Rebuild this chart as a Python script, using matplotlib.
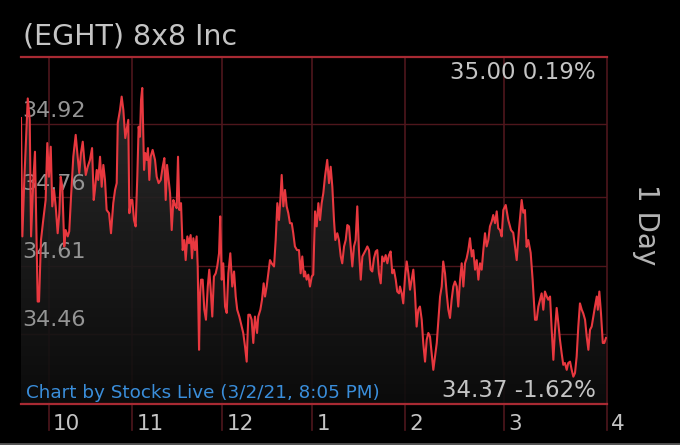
"""
Intraday price chart for EGHT (8x8 Inc), dark "Stocks Live" style.
Output: out.png
"""

import numpy as np
import matplotlib.pyplot as plt
from matplotlib.colors import LinearSegmentedColormap
from matplotlib.lines import Line2D

# --- data ---
# position along the session axis (minutes from the open, as drawn)
minutes = [
    0.0, 0.9, 2.2, 4.5, 5.8, 6.7, 8.2, 9.3, 10.4, 11.1, 12.0, 13.3, 14.8, 16.4, 17.5, 18.6,
    19.8, 20.8, 22.0, 23.1, 24.4, 25.5, 26.4, 27.5, 28.8, 29.7, 31.1, 32.1, 33.3, 34.8, 36.4,
    37.7, 38.8, 39.9, 41.1, 42.1, 43.1, 44.4, 45.9, 47.3, 48.4, 49.2, 50.4, 51.4, 52.6, 53.7,
    54.8, 55.9, 57.0, 58.6, 59.9, 61.4,
    62.6, 63.7, 64.4, 65.9, 67.0, 68.1, 69.4, 70.3, 71.4, 72.1, 73.2, 74.1, 75.2, 76.3, 77.4,
    78.3, 79.2, 79.9, 80.7, 81.9, 82.7, 83.7, 84.5, 85.4, 86.3, 87.6, 89.2, 90.3, 91.6, 93.0,
    94.3, 95.4, 96.3, 97.2, 98.3, 99.2, 100.3, 101.4, 102.5, 103.6, 104.5, 105.4, 106.5, 107.6,
    108.7, 109.6, 110.7, 111.8, 112.9, 113.8, 114.7, 115.8, 116.9, 117.6, 118.5, 119.1, 119.8,
    120.9, 122.0, 123.1, 124.3, 125.3,
    126.4, 127.3, 128.4, 129.6, 130.6, 131.8, 132.6, 133.6, 134.6, 135.8, 136.9, 138.0, 139.3,
    140.6, 141.8, 142.9, 143.9, 145.3, 146.9, 147.9, 149.1, 150.2, 151.3, 152.4, 153.5, 154.6,
    155.7, 157.1, 157.9, 159.3, 160.4, 161.5, 162.4, 163.5, 164.6, 165.7, 166.8, 168.4, 169.5,
    170.6, 171.7, 172.6, 173.5, 174.6, 175.7, 176.8, 177.9, 179.0, 180.2, 181.2, 182.3, 183.7,
    185.0, 186.1, 187.2, 188.3,
    189.0, 190.1, 191.2, 192.3, 193.5, 194.5, 195.7, 196.8, 197.9, 199.0, 200.1, 201.2, 202.3,
    203.8, 205.0, 206.1, 207.2, 208.3, 209.2, 210.5, 211.6, 212.8, 213.8, 215.0, 216.1, 217.2,
    218.3, 219.4, 220.5, 221.6, 222.7, 223.8, 224.9, 226.1, 227.2, 228.3, 229.4, 230.5, 231.6,
    232.7, 233.8, 234.9, 236.1, 237.1, 238.2, 239.4, 240.4, 241.6, 242.7, 243.8, 244.9, 246.0,
    247.1, 248.2, 249.4, 250.4, 251.6,
    252.2, 253.4, 254.4, 255.6, 256.7, 257.8, 258.9, 260.0, 261.1, 262.2, 263.3, 264.4, 265.5,
    266.7, 267.7, 268.9, 270.0, 271.1, 272.2, 273.3, 274.4, 275.5, 276.7, 277.8, 278.9, 280.0,
    281.0, 282.2, 283.3, 284.4, 285.5, 286.6, 287.7, 288.8, 290.0, 291.0, 292.2, 293.3, 294.4,
    295.5, 296.6, 297.7, 298.8, 300.0, 301.0, 302.2, 303.3, 304.4, 305.5, 306.6, 307.7, 308.8,
    309.9, 311.0, 312.1, 313.3, 314.3, 315.5, 316.6, 317.6, 318.8, 319.9, 321.0,
    322.6, 324.3, 326.1, 327.6, 329.9, 331.4, 333.2, 334.3, 335.4, 336.5, 337.6, 339.2, 340.5,
    342.1, 343.2, 344.3, 345.4, 346.5, 347.6, 348.7, 349.9, 350.9, 352.1, 353.2, 354.3, 355.4,
    356.5, 357.6, 358.7, 359.8, 360.9, 362.0, 363.2, 364.2, 365.4, 366.5, 367.6, 368.7, 369.8,
    370.9, 372.0, 373.2, 374.2, 375.4, 376.5, 377.6, 378.7, 379.8, 380.9, 382.0, 383.2, 383.9,
    384.9, 386.0, 387.2, 388.2, 389.3,
]
prices = [
    34.934, 34.674, 34.798, 34.977, 34.930, 34.674, 34.798, 34.860, 34.666, 34.531, 34.531,
    34.666, 34.710, 34.754, 34.879, 34.805, 34.871, 34.740, 34.776, 34.740, 34.681, 34.725,
    34.805, 34.783, 34.652, 34.688, 34.674, 34.685, 34.761, 34.849, 34.897, 34.849, 34.813,
    34.857, 34.882, 34.842, 34.809, 34.827, 34.842, 34.868, 34.754, 34.776, 34.820, 34.798,
    34.849, 34.783, 34.831, 34.798, 34.732, 34.725, 34.681, 34.747,
    34.776, 34.791, 34.923, 34.952, 34.981, 34.952, 34.890, 34.908, 34.930, 34.725, 34.754,
    34.754, 34.710, 34.696, 34.805, 34.915, 34.893, 34.974, 35.000, 34.820, 34.857, 34.842,
    34.868, 34.798, 34.849, 34.864, 34.842, 34.805, 34.791, 34.798, 34.827, 34.846, 34.754,
    34.831, 34.798, 34.769, 34.688, 34.754, 34.743, 34.736, 34.849, 34.732, 34.747, 34.644,
    34.666, 34.622, 34.674, 34.659, 34.677, 34.626, 34.670, 34.644, 34.674, 34.608, 34.425,
    34.542, 34.579, 34.579, 34.513, 34.491, 34.564, 34.601,
    34.549, 34.498, 34.586, 34.593, 34.608, 34.637, 34.718, 34.579, 34.615, 34.520, 34.506,
    34.593, 34.637, 34.564, 34.597, 34.542, 34.513, 34.498, 34.476, 34.462, 34.432, 34.399,
    34.502, 34.502, 34.491, 34.440, 34.498, 34.462, 34.498, 34.513, 34.535, 34.571, 34.542,
    34.564, 34.593, 34.622, 34.615, 34.608, 34.666, 34.747, 34.710, 34.754, 34.809, 34.740,
    34.776, 34.740, 34.725, 34.703, 34.703, 34.681, 34.652, 34.644, 34.644, 34.593, 34.630,
    34.586,
    34.597, 34.579, 34.590, 34.564, 34.586, 34.590, 34.729, 34.696, 34.747, 34.710, 34.747,
    34.769, 34.805, 34.842, 34.791, 34.827, 34.783, 34.710, 34.666, 34.681, 34.666, 34.630,
    34.615, 34.652, 34.666, 34.699, 34.696, 34.652, 34.608, 34.652, 34.666, 34.740, 34.644,
    34.579, 34.630, 34.637, 34.644, 34.652, 34.644, 34.601, 34.597, 34.626, 34.641, 34.644,
    34.593, 34.571, 34.630, 34.619, 34.633, 34.615, 34.633, 34.641, 34.593, 34.601, 34.579,
    34.553, 34.549,
    34.564, 34.549, 34.527, 34.586, 34.619, 34.593, 34.557, 34.579, 34.601, 34.549, 34.476,
    34.513, 34.520, 34.491, 34.440, 34.399, 34.447, 34.462, 34.454, 34.418, 34.381, 34.410,
    34.440, 34.491, 34.542, 34.564, 34.619, 34.593, 34.549, 34.513, 34.495, 34.535, 34.564,
    34.575, 34.564, 34.520, 34.579, 34.615, 34.564, 34.615, 34.626, 34.644, 34.670, 34.630,
    34.644, 34.601, 34.622, 34.579, 34.615, 34.601, 34.644, 34.681, 34.652, 34.666, 34.696,
    34.707, 34.721, 34.703, 34.729, 34.692, 34.688, 34.674, 34.732,
    34.743, 34.710, 34.688, 34.682, 34.622, 34.688, 34.754, 34.726, 34.732, 34.651, 34.666,
    34.638, 34.579,
    34.491, 34.491, 34.520, 34.535, 34.549, 34.513, 34.553, 34.542, 34.535, 34.542, 34.469,
    34.403, 34.469, 34.517, 34.484, 34.447, 34.418, 34.392, 34.396, 34.381, 34.396, 34.399,
    34.381, 34.366, 34.374, 34.410, 34.476, 34.527, 34.513, 34.505, 34.491, 34.454, 34.425,
    34.469, 34.476, 34.498, 34.520, 34.542, 34.513, 34.553, 34.505, 34.440, 34.440, 34.451,
]

hour_ticks = [18.6, 73.9, 133.8, 193.7, 255.6, 321.5, 390.0]
hour_labels = ['10', '11', '12', '1', '2', '3', '4']
price_levels = [34.92, 34.76, 34.61, 34.46]
price_labels = ['34.92', '34.76', '34.61', '34.46']

title = '(EGHT) 8x8 Inc'
high_text = '35.00 0.19%'
low_text = '34.37 -1.62%'
credit = 'Chart by Stocks Live (3/2/21, 8:05 PM)'
period = '1 Day'

# --- styling ---
bg = '#000000'
line_red = '#e8383f'
edge_red = '#a82a33'
grid_red = '#4e161c'
text_grey = '#c4c4c4'
label_grey = '#959595'

plt.rcParams['font.family'] = ['DejaVu Sans']

fig = plt.figure(figsize=(6.8, 4.45), dpi=100, facecolor=bg)
ax = fig.add_axes([21 / 680, 41 / 445, 586 / 680, 347 / 445])
ax.set_facecolor(bg)

ymin, ymax = 34.306, 35.068
ax.set_xlim(0, 390)
ax.set_ylim(ymin, ymax)

for s in ax.spines.values():
    s.set_visible(False)
ax.set_xticks([])
ax.set_yticks([])

# horizontal grid
for lvl in price_levels:
    ax.axhline(lvl, color=grid_red, linewidth=1.0, zorder=1)

# vertical grid, running down past the frame into the hour labels
for t in hour_ticks:
    ax.axvline(t, ymin=-0.075, ymax=1, color=grid_red, linewidth=1.2,
               clip_on=False, zorder=1)

# gradient fill under the curve
t_arr = np.array(minutes)
p_arr = np.array(prices)
poly = ax.fill_between(t_arr, p_arr, ymin, facecolor='none', edgecolor='none')
cmap = LinearSegmentedColormap.from_list('fade', ['#0d0d0d', '#2e2e2e'])
grad = np.linspace(0, 1, 256).reshape(-1, 1)
im = ax.imshow(grad, extent=[0, 390, ymin, max(prices)], origin='lower',
               aspect='auto', cmap=cmap, alpha=0.9, zorder=2)
im.set_clip_path(poly.get_paths()[0], ax.transData)

# price labels sit just above their grid line, under the red line
for lvl, lab in zip(price_levels, price_labels):
    ax.annotate(lab, xy=(0, lvl), xycoords=('axes fraction', 'data'),
                xytext=(1, 5.5), textcoords='offset points',
                ha='left', va='baseline', fontsize=16, color=label_grey, zorder=2.5)

ax.plot(t_arr, p_arr, color=line_red, linewidth=1.5, zorder=3)

# red frame lines top and bottom
ax.axhline(ymax, color=edge_red, linewidth=1.6, zorder=4, clip_on=False)
ax.axhline(ymin, color=edge_red, linewidth=1.6, zorder=4, clip_on=False)

# hour labels to the right of each grid line
for t, lab in zip(hour_ticks, hour_labels):
    ax.annotate(lab, xy=(t, 0), xycoords=('data', 'axes fraction'),
                xytext=(3, -19), textcoords='offset points',
                ha='left', va='baseline', fontsize=15.5, color=text_grey)

# texts
fig.text(23 / 680, 1 - 45 / 445, title, fontsize=20.5, color=text_grey,
         ha='left', va='baseline')
fig.text(596 / 680, 1 - 79 / 445, high_text, fontsize=16.5, color=text_grey,
         ha='right', va='baseline')
fig.text(596 / 680, 1 - 397 / 445, low_text, fontsize=16.5, color=text_grey,
         ha='right', va='baseline')
fig.text(26 / 680, 1 - 398 / 445, credit, fontsize=13.2, color='#3a8edb',
         ha='left', va='baseline')
fig.text(646 / 680, 1 - 225 / 445, period, fontsize=20, color='#b4b4b4',
         rotation=270, ha='center', va='center')

fig.add_artist(Line2D([0, 1], [0.002, 0.002], color='#555555', linewidth=2,
                      transform=fig.transFigure))

fig.savefig('out.png', dpi=100, facecolor=bg)
